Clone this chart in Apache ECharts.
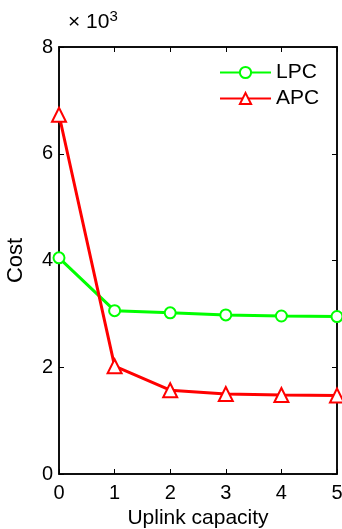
<!DOCTYPE html>
<html>
<head>
<meta charset="utf-8">
<script src="https://cdn.jsdelivr.net/npm/echarts@6/dist/echarts.min.js"></script>
<style>
html,body{margin:0;padding:0;background:#fff;}
#chart{width:342px;height:529px;}
</style>
</head>
<body>
<div id="chart"></div>
<script>
var xCats = [0, 1, 2, 3, 4, 5];
var lpc = [4.05, 3.06, 3.02, 2.98, 2.96, 2.95];
var apc = [6.73, 2.02, 1.57, 1.50, 1.48, 1.47];
var yTicks = [0, 2, 4, 6, 8];

function pairs(v) {
	return v.map(function (y, i) { return [xCats[i], y]; });
}

var font = 'Liberation Sans, Arial, sans-serif';
var tick = { show: true, inside: true, length: 5, lineStyle: { color: '#000', width: 1 } };
var chart = echarts.init(document.getElementById('chart'));
var option = {
	animation: false,
	textStyle: { fontFamily: font },
	grid: { left: 59, right: 5, top: 47, bottom: 55, show: true,
		containLabel: false, outerBoundsMode: 'none',
		borderColor: '#000', borderWidth: 1.5, backgroundColor: 'transparent' },
	title: {
		text: '× 10{s|3}',
		left: 63, top: 4,
		textStyle: {
			fontFamily: font, fontSize: 21, fontWeight: 'normal', color: '#000',
			rich: { s: { fontFamily: font, fontSize: 15, color: '#000', verticalAlign: 'top', padding: [0, 0, 12, 0] } }
		}
	},
	legend: {
		left: 214, top: 57,
		orient: 'vertical',
		itemWidth: 51, itemHeight: 14, itemGap: 5,
		textStyle: { fontFamily: font, fontSize: 21, color: '#000' },
		data: ['LPC', 'APC']
	},
	xAxis: [{
		type: 'value', min: 0, max: 5, interval: 1,
		name: 'Uplink capacity', nameLocation: 'middle', nameGap: 34,
		nameTextStyle: { fontSize: 21, color: '#000' },
		axisLine: { show: true, onZero: false, lineStyle: { color: '#000', width: 1.5 } },
		axisTick: tick,
		axisLabel: { fontSize: 20, color: '#000', margin: 9 },
		splitLine: { show: false }
	}, {
		type: 'value', min: 0, max: 5, interval: 1, position: 'top',
		axisLine: { show: true, onZero: false, lineStyle: { color: '#000', width: 1.5 } },
		axisTick: tick,
		axisLabel: { show: false },
		splitLine: { show: false }
	}],
	yAxis: [{
		type: 'value', min: 0, max: 8, interval: 2,
		name: 'Cost', nameLocation: 'middle', nameGap: 32,
		nameTextStyle: { fontSize: 22, color: '#000' },
		axisLine: { show: true, onZero: false, lineStyle: { color: '#000', width: 1.5 } },
		axisTick: tick,
		axisLabel: { fontSize: 20, color: '#000', margin: 6,
			formatter: function (v) { return yTicks.indexOf(v) >= 0 ? String(v) : ''; } },
		splitLine: { show: false }
	}, {
		type: 'value', min: 0, max: 8, interval: 2, position: 'right',
		axisLine: { show: true, onZero: false, lineStyle: { color: '#000', width: 1.5 } },
		axisTick: tick,
		axisLabel: { show: false },
		splitLine: { show: false }
	}],
	series: [{
		name: 'LPC', type: 'line',
		data: pairs(lpc),
		symbol: 'emptyCircle', symbolSize: 11,
		lineStyle: { color: '#00ff00', width: 3 },
		itemStyle: { color: '#00ff00', borderColor: '#00ff00', borderWidth: 2.5 },
		z: 2
	}, {
		name: 'APC', type: 'line',
		data: pairs(apc),
		symbol: 'emptyTriangle', symbolSize: 14,
		lineStyle: { color: '#ff0000', width: 3 },
		itemStyle: { color: '#ff0000', borderColor: '#ff0000', borderWidth: 2.5 },
		z: 3
	}, {
		name: 'box', type: 'line', xAxisIndex: 1, yAxisIndex: 1,
		data: [], silent: true
	}]
};
chart.setOption(option);
</script>
</body>
</html>
